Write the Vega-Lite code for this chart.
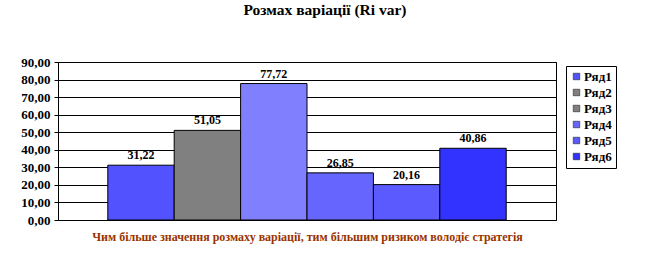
{
  "$schema": "https://vega.github.io/schema/vega-lite/v6.json",
  "width": 498,
  "height": 158,
  "autosize": {"type": "none"},
  "padding": {"left": 58, "top": 62, "right": 95, "bottom": 36},
  "background": "white",
  "config": {
    "locale": {"number": {"decimal": ",", "thousands": " ", "grouping": [3], "currency": ["", ""]}},
    "view": {"stroke": "black", "strokeWidth": 1},
    "font": "Liberation Serif"
  },
  "title": {
    "text": "Розмах варіації (Ri var)",
    "font": "Liberation Serif",
    "fontSize": 15.5,
    "fontWeight": "bold",
    "color": "black",
    "anchor": "middle",
    "offset": 38,
    "dx": 18
  },
  "data": {
    "values": [
      {"series": "Ряд1", "value": 31.22},
      {"series": "Ряд2", "value": 51.05},
      {"series": "Ряд3", "value": 77.72},
      {"series": "Ряд4", "value": 26.85},
      {"series": "Ряд5", "value": 20.16},
      {"series": "Ряд6", "value": 40.86}
    ]
  },
  "encoding": {
    "x": {
      "field": "series",
      "type": "nominal",
      "sort": null,
      "scale": {"paddingInner": 0, "paddingOuter": 0.75},
      "axis": {
        "title": "Чим більше значення розмаху варіації, тим більшим ризиком володіє стратегія",
        "titleFont": "Liberation Serif",
        "titleFontSize": 12,
        "titleFontWeight": "bold",
        "titleColor": "#993300",
        "titlePadding": 11,
        "labels": false,
        "ticks": false,
        "domain": true,
        "domainColor": "black",
        "grid": false
      }
    },
    "y": {
      "field": "value",
      "type": "quantitative",
      "scale": {"domain": [0, 90], "nice": false},
      "axis": {
        "title": null,
        "values": [0, 10, 20, 30, 40, 50, 60, 70, 80, 90],
        "format": ".2f",
        "labelFont": "Liberation Serif",
        "labelFontSize": 13,
        "labelFontWeight": "bold",
        "labelColor": "black",
        "labelPadding": 4,
        "tickColor": "black",
        "tickSize": 4,
        "domainColor": "black",
        "grid": true,
        "gridColor": "black",
        "gridOpacity": 1,
        "gridWidth": 1
      }
    }
  },
  "layer": [
    {
      "mark": {"type": "bar", "stroke": "black", "strokeWidth": 1, "fillOpacity": 1},
      "encoding": {
        "fill": {
          "condition": {"test": "datum.series === 'Ряд3'", "value": "#8080ff"},
          "field": "series",
          "type": "nominal",
          "scale": {
            "domain": ["Ряд1", "Ряд2", "Ряд3", "Ряд4", "Ряд5", "Ряд6"],
            "range": ["#5252ff", "#808080", "#808080", "#6666ff", "#5a5aff", "#3333ff"]
          },
          "legend": {
            "title": null,
            "orient": "none",
            "legendX": 508,
            "legendY": 4,
            "strokeColor": "black",
            "fillColor": "white",
            "padding": 4,
            "rowPadding": 2,
            "symbolType": "square",
            "symbolSize": 42,
            "symbolOpacity": 1,
            "symbolStrokeColor": "#222222",
            "symbolStrokeWidth": 0.6,
            "labelOffset": 1,
            "labelFont": "Liberation Serif",
            "labelFontSize": 13,
            "labelFontWeight": "bold",
            "labelColor": "black"
          }
        }
      }
    },
    {
      "mark": {
        "type": "text",
        "baseline": "bottom",
        "dy": -3,
        "font": "Liberation Serif",
        "fontSize": 12,
        "fontWeight": "bold",
        "color": "black"
      },
      "encoding": {
        "text": {"field": "value", "type": "quantitative", "format": ".2f"}
      }
    }
  ]
}
